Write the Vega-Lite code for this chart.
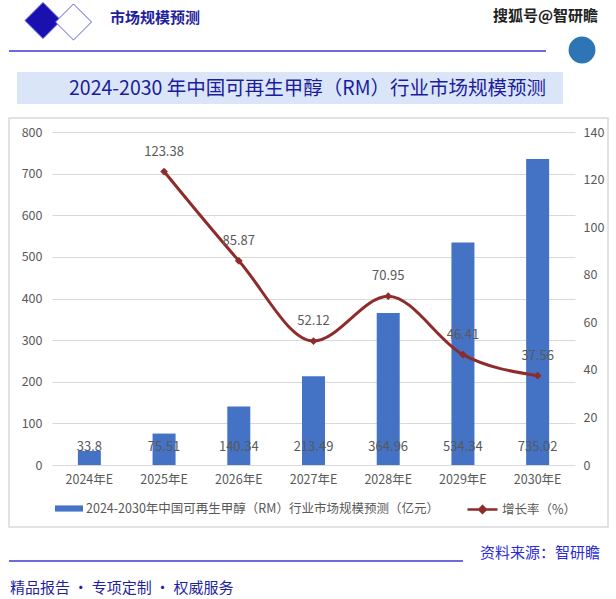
{
  "$schema": "https://vega.github.io/schema/vega-lite/v6.json",
  "width": 523,
  "height": 333,
  "autosize": {"type": "none"},
  "padding": {"left": 52, "top": 132, "right": 41, "bottom": 134},
  "background": "white",
  "config": {
    "view": {"stroke": null},
    "font": "Noto Sans CJK SC",
    "axis": {"labelFont": "Noto Sans CJK SC", "labelColor": "#595959", "labelFontSize": 12.5, "domain": false, "ticks": false, "title": null},
    "legend": {"labelFont": "Noto Sans CJK SC", "labelColor": "#595959", "labelFontSize": 12.5, "labelLimit": 500}
  },
  "data": {
    "values": [
      {"year": "2024年E", "size": 33.8, "growth": null},
      {"year": "2025年E", "size": 75.51, "growth": 123.38},
      {"year": "2026年E", "size": 140.34, "growth": 85.87},
      {"year": "2027年E", "size": 213.49, "growth": 52.12},
      {"year": "2028年E", "size": 364.96, "growth": 70.95},
      {"year": "2029年E", "size": 534.34, "growth": 46.41},
      {"year": "2030年E", "size": 735.02, "growth": 37.56}
    ]
  },
  "encoding": {
    "x": {"field": "year", "type": "nominal", "sort": null, "scale": {"paddingInner": 0, "paddingOuter": 0}, "axis": {"labelAngle": 0, "labelPadding": 8, "grid": false}}
  },
  "layer": [
    {
      "data": {"values": [{"k": "frame"}]},
      "mark": {"type": "rect", "fill": null, "stroke": "#d9d9d9", "strokeWidth": 1.5},
      "encoding": {"x": {"value": -43}, "x2": {"value": 556}, "y": {"value": -14}, "y2": {"value": 395}}
    },
    {
      "data": {"values": [{"k": "titlebox"}]},
      "mark": {"type": "rect", "fill": "#dae6f8"},
      "encoding": {"x": {"value": -35}, "x2": {"value": 511}, "y": {"value": -60}, "y2": {"value": -28}}
    },
    {
      "data": {"values": [{"t": "2024-2030 年中国可再生甲醇（RM）行业市场规模预测"}]},
      "mark": {"type": "text", "fontSize": 19.5, "color": "#1c1c9c", "align": "center", "baseline": "middle"},
      "encoding": {"text": {"field": "t"}, "x": {"value": 255.5}, "y": {"value": -43}}
    },
    {
      "data": {"values": [{"k": "a", "pos": -9, "py": -111.5, "fill": "#1a10b0"}, {"k": "b", "pos": 21.5, "py": -110, "fill": "white"}]},
      "mark": {"type": "point", "shape": "diamond", "size": 1300, "filled": true, "opacity": 1, "stroke": "#5a5ae0", "strokeWidth": 1},
      "encoding": {"x": {"field": "pos", "type": "quantitative", "scale": null}, "y": {"field": "py", "type": "quantitative", "scale": null}, "fill": {"field": "fill", "type": "nominal", "scale": null}}
    },
    {
      "data": {"values": [{"t": "市场规模预测"}]},
      "mark": {"type": "text", "fontSize": 15, "fontWeight": "bold", "color": "#1f1fa0", "align": "left", "baseline": "middle"},
      "encoding": {"text": {"field": "t"}, "x": {"value": 58}, "y": {"value": -114}}
    },
    {
      "data": {"values": [{"t": "搜狐号@智研瞻"}]},
      "mark": {"type": "text", "fontSize": 15, "fontWeight": "bold", "color": "#222222", "align": "left", "baseline": "middle"},
      "encoding": {"text": {"field": "t"}, "x": {"value": 441}, "y": {"value": -116}}
    },
    {
      "data": {"values": [{"k": "logo"}]},
      "mark": {"type": "point", "shape": "circle", "size": 720, "filled": true, "color": "#2e75b6", "opacity": 1},
      "encoding": {"x": {"value": 530}, "y": {"value": -82}}
    },
    {
      "data": {"values": [{"k": "l1", "y": -81, "x2": 494}, {"k": "l2", "y": 429, "x2": 411}]},
      "mark": {"type": "rule", "color": "#3a3ad0", "strokeWidth": 1.5},
      "encoding": {"x": {"value": -43}, "x2": {"field": "x2", "type": "quantitative", "scale": null}, "y": {"field": "y", "type": "quantitative", "scale": null}}
    },
    {
      "data": {"values": [{"t": "资料来源：智研瞻"}]},
      "mark": {"type": "text", "fontSize": 15, "color": "#2b2bd6", "align": "left", "baseline": "middle"},
      "encoding": {"text": {"field": "t"}, "x": {"value": 428}, "y": {"value": 421}}
    },
    {
      "data": {"values": [{"t": "精品报告 •  专项定制 • 权威服务"}]},
      "mark": {"type": "text", "fontSize": 15, "color": "#1f1fa0", "align": "left", "baseline": "middle"},
      "encoding": {"text": {"field": "t"}, "x": {"value": -42}, "y": {"value": 456}}
    },
    {
      "layer": [
        {
          "mark": {"type": "bar", "size": 23},
          "encoding": {
            "y": {"field": "size", "type": "quantitative", "scale": {"domain": [0, 800], "nice": false}, "axis": {"orient": "left", "values": [0, 100, 200, 300, 400, 500, 600, 700, 800], "grid": true, "gridColor": "#d9d9d9", "labelPadding": 10}},
            "color": {"datum": "2024-2030年中国可再生甲醇（RM）行业市场规模预测（亿元）", "scale": {"range": ["#4472c4"]}, "legend": {"orient": "none", "legendX": 3, "legendY": 362.5, "title": null, "padding": 0, "symbolType": "M-1,-0.22H1V0.22H-1Z", "symbolSize": 784, "symbolStrokeWidth": 0, "labelOffset": 3}}
          }
        },
        {
          "mark": {"type": "text", "fontSize": 13, "color": "#595959", "baseline": "middle", "dy": -18},
          "encoding": {
            "y": {"datum": 0, "type": "quantitative"},
            "text": {"field": "size", "type": "quantitative"}
          }
        }
      ]
    },
    {
      "transform": [{"filter": "datum.growth != null"}],
      "layer": [
        {
          "mark": {"type": "line", "interpolate": "monotone", "strokeWidth": 3},
          "encoding": {
            "y": {"field": "growth", "type": "quantitative", "scale": {"domain": [0, 140], "nice": false}, "axis": {"orient": "right", "values": [0, 20, 40, 60, 80, 100, 120, 140], "grid": false, "labelPadding": 8}},
            "stroke": {"datum": "增长率（%）", "scale": {"range": ["#8e2b2b"]}, "legend": {"orient": "none", "legendX": 414, "legendY": 361, "title": null, "padding": 0, "symbolType": "M-1,0H1M0,-0.22L0.22,0L0,0.22L-0.22,0Z", "symbolSize": 900, "symbolStrokeWidth": 2.5, "symbolFillColor": "#8e2b2b", "labelOffset": 3}}
          }
        },
        {
          "mark": {"type": "point", "shape": "diamond", "filled": true, "size": 60, "color": "#8e2b2b", "opacity": 1},
          "encoding": {"y": {"field": "growth", "type": "quantitative"}}
        },
        {
          "mark": {"type": "text", "fontSize": 13, "color": "#595959", "baseline": "middle", "dy": -20},
          "encoding": {"y": {"field": "growth", "type": "quantitative"}, "text": {"field": "growth", "type": "quantitative"}}
        }
      ]
    }
  ],
  "resolve": {"scale": {"y": "independent"}}
}
